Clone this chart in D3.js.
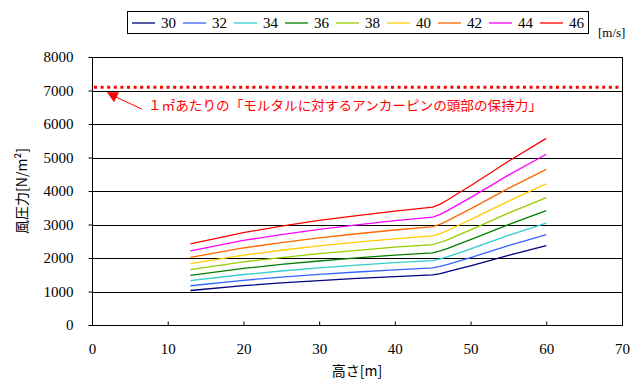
<!DOCTYPE html>
<html>
<head>
<meta charset="utf-8">
<script src="https://cdn.jsdelivr.net/npm/d3@7"></script>
<style>
  body { margin: 0; background: #fff; }
  svg { display: block; }
  .num { font-family: "Liberation Serif", "DejaVu Serif", serif; }
  .jp { font-family: "Noto Sans CJK JP", sans-serif; }
</style>
</head>
<body>
<script>
// heights [m]
const heights = [13, 20, 25, 30, 35, 40, 45, 46, 47, 48, 50, 55, 60];

// wind speed categories [m/s]
const speeds = [30, 32, 34, 36, 38, 40, 42, 44, 46];

// wind pressure [N/m2] per wind speed
const p30 = [1030, 1173, 1255, 1327, 1390, 1447, 1497, 1535, 1590, 1650, 1768, 2080, 2370];
const p32 = [1172, 1335, 1428, 1510, 1582, 1646, 1703, 1747, 1809, 1877, 2012, 2367, 2697];
const p34 = [1323, 1507, 1612, 1704, 1785, 1859, 1923, 1972, 2042, 2119, 2271, 2672, 3044];
const p36 = [1483, 1689, 1807, 1911, 2002, 2084, 2156, 2210, 2290, 2376, 2546, 2995, 3413];
const p38 = [1653, 1882, 2014, 2129, 2230, 2322, 2402, 2463, 2551, 2647, 2837, 3337, 3802];
const p40 = [1831, 2085, 2231, 2359, 2471, 2572, 2661, 2729, 2827, 2933, 3143, 3698, 4213];
const p42 = [2019, 2299, 2460, 2601, 2724, 2836, 2934, 3009, 3116, 3234, 3465, 4077, 4645];
const p44 = [2216, 2523, 2700, 2855, 2990, 3113, 3220, 3302, 3420, 3549, 3803, 4474, 5098];
const p46 = [2422, 2758, 2951, 3120, 3268, 3402, 3520, 3609, 3738, 3879, 4157, 4890, 5572];

const seriesValues = [p30, p32, p34, p36, p38, p40, p42, p44, p46];
const colors = ["#000080", "#3366FF", "#33CCCC", "#008000", "#99CC00", "#FFCC00", "#FF6600", "#FF00FF", "#FF0000"];

// holding force of anchor pin head per 1 m2
const holdValue = 7100;

const xTicks = [0, 10, 20, 30, 40, 50, 60, 70];
const yTicks = [0, 1000, 2000, 3000, 4000, 5000, 6000, 7000, 8000];

const w = 644, h = 388;
const margin = {top: 57, right: 22, bottom: 63, left: 92};

const svg = d3.select("body").append("svg")
    .attr("width", w)
    .attr("height", h);

const x = d3.scaleLinear().domain([0, 70]).range([margin.left, w - margin.right]);
const y = d3.scaleLinear().domain([0, 8000]).range([h - margin.bottom, margin.top]);

// gridlines
svg.append("g")
    .selectAll("line")
    .data(yTicks)
    .join("line")
    .attr("x1", x(0)).attr("x2", x(70))
    .attr("y1", d => Math.round(y(d)) + 0.5)
    .attr("y2", d => Math.round(y(d)) + 0.5)
    .attr("stroke", "#000")
    .attr("stroke-width", 1);

// plot frame
svg.append("rect")
    .attr("x", Math.round(x(0)) + 0.5)
    .attr("y", Math.round(y(8000)) + 0.5)
    .attr("width", Math.round(x(70)) - Math.round(x(0)))
    .attr("height", Math.round(y(0)) - Math.round(y(8000)))
    .attr("fill", "none")
    .attr("stroke", "#000");

// axes
const xAxis = svg.append("g")
    .attr("transform", `translate(0,${Math.round(y(0)) + 0.5})`)
    .call(d3.axisBottom(x).tickValues(xTicks).tickFormat(d3.format("d"))
      .tickSizeInner(-4).tickSizeOuter(0).tickPadding(18));
const yAxis = svg.append("g")
    .attr("transform", `translate(${Math.round(x(0)) + 0.5},0)`)
    .call(d3.axisLeft(y).tickValues(yTicks).tickFormat(d3.format("d"))
      .tickSizeInner(4).tickSizeOuter(0).tickPadding(15));

[xAxis, yAxis].forEach(a => {
  a.attr("font-family", null).attr("font-size", null);
  a.select(".domain").remove();
  a.selectAll("line").attr("stroke", "#000");
  a.selectAll("text")
    .attr("class", "num")
    .style("font-size", "15px")
    .attr("fill", "#000");
});

// axis titles
svg.append("text")
    .attr("class", "jp")
    .attr("x", x(35))
    .attr("y", 376)
    .attr("text-anchor", "middle")
    .style("font-size", "14px")
    .text("高さ[m]");

svg.append("text")
    .attr("class", "jp")
    .attr("transform", `translate(27,${y(4000)}) rotate(-90)`)
    .attr("text-anchor", "middle")
    .style("font-size", "14px")
    .text("風圧力[N/m²]");

// series lines
const line = d3.line()
    .x((d, i) => x(heights[i]))
    .y(d => y(d));

svg.append("g")
    .selectAll("path")
    .data(seriesValues)
    .join("path")
    .attr("d", d => line(d))
    .attr("fill", "none")
    .attr("stroke", (d, i) => colors[i])
    .attr("stroke-width", 1.3);

// holding force dotted line
svg.append("line")
    .attr("x1", x(0) + 2).attr("x2", x(70))
    .attr("y1", y(holdValue)).attr("y2", y(holdValue))
    .attr("stroke", "#FF0000")
    .attr("stroke-width", 3)
    .attr("stroke-dasharray", "3,3.6");

// annotation arrow
const ay = y(holdValue);
svg.append("line")
    .attr("x1", 114).attr("y1", ay + 9)
    .attr("x2", 142).attr("y2", ay + 22)
    .attr("stroke", "#FF0000")
    .attr("stroke-width", 1);
svg.append("path")
    .attr("d", `M107,${ay + 5} L119,${ay + 5} L114,${ay + 15} Z`)
    .attr("fill", "#FF0000");

svg.append("text")
    .attr("class", "jp")
    .attr("x", 148)
    .attr("y", ay + 23)
    .style("font-size", "13px")
    .attr("fill", "#FF0000")
    .attr("textLength", 394)
    .attr("lengthAdjust", "spacingAndGlyphs")
    .text("１㎡あたりの「モルタルに対するアンカーピンの頭部の保持力」");

// legend
const legend = svg.append("g");
legend.append("rect")
    .attr("x", 127.5).attr("y", 11.5)
    .attr("width", 461).attr("height", 22)
    .attr("fill", "#fff")
    .attr("stroke", "#000");

const item = legend.selectAll("g.item")
    .data(speeds)
    .join("g")
    .attr("class", "item")
    .attr("transform", (d, i) => `translate(${132 + i * 51},23)`);
item.append("line")
    .attr("x1", 0).attr("x2", 23)
    .attr("stroke", (d, i) => colors[i])
    .attr("stroke-width", 1.3);
item.append("text")
    .attr("class", "num")
    .attr("x", 29)
    .attr("y", 5)
    .style("font-size", "15px")
    .text(d => d);

svg.append("text")
    .attr("class", "num")
    .attr("x", 598)
    .attr("y", 37)
    .style("font-size", "13px")
    .text("[m/s]");
</script>
</body>
</html>
